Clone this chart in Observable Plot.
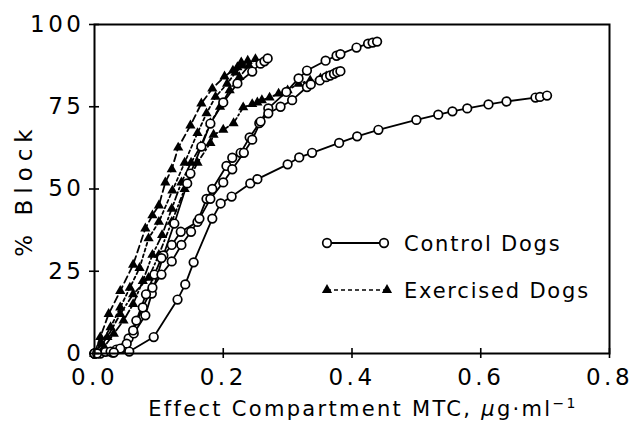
<!DOCTYPE html>
<html><head><meta charset="utf-8">
<script src="https://cdn.jsdelivr.net/npm/d3@7"></script>
<script src="https://cdn.jsdelivr.net/npm/@observablehq/plot@0.6"></script>
<style>
html,body{margin:0;padding:0;background:#fff;}
#chart svg{font-family:"DejaVu Sans",sans-serif;}
#chart svg [aria-label="y-axis tick label"] text,
#chart svg [aria-label="x-axis tick label"] text{letter-spacing:3.5px;}
</style></head><body><div id="chart"></div>
<script>
const xTicks = [0, 0.2, 0.4, 0.6, 0.8];
const yTicks = [0, 25, 50, 75, 100];
const legendLabels = ["Control Dogs", "Exercised Dogs"];
const xTitle = ["Effect Compartment MTC, ", "\u03bc", "g\u00b7ml", "\u22121"];
const yTitle = "% Block";

// Control dogs (open circles, solid lines): [MTC, % block]
const control1 = [[0,0],[0.009,0],[0.028,0.3],[0.053,4.6],[0.061,6.1],[0.079,11.6],[0.089,18.2],[0.107,29.8],[0.124,39.5],[0.144,51.7],[0.149,54.7],[0.166,62.9],[0.18,69.9],[0.2,76.3],[0.222,82.1],[0.245,85.7],[0.258,88.1],[0.264,88.8],[0.269,89.7]];
const control2 = [[0,0],[0.017,0.5],[0.034,1.2],[0.05,3],[0.065,10],[0.08,18],[0.093,24],[0.104,29],[0.12,33],[0.134,37],[0.16,40],[0.174,47],[0.183,50],[0.205,57],[0.214,59.5],[0.227,61],[0.241,65.7],[0.256,70],[0.27,74.5],[0.298,79.5],[0.317,83.6],[0.33,86],[0.359,89],[0.376,90.5],[0.382,91],[0.407,93],[0.425,94.2],[0.432,94.5],[0.439,94.8]];
const control3 = [[0,0],[0.025,0.6],[0.04,1.5],[0.06,7],[0.075,14],[0.09,20],[0.104,24],[0.12,28],[0.135,33],[0.15,37],[0.163,41],[0.18,47],[0.2,52],[0.214,56],[0.232,61],[0.245,65],[0.258,70.5],[0.27,73],[0.289,75],[0.307,77],[0.33,81],[0.336,81.8],[0.35,83],[0.36,84],[0.366,84.5],[0.372,85],[0.377,85.5],[0.382,85.8]];
const control4 = [[0.004,0],[0.03,0.3],[0.054,0.6],[0.092,5],[0.129,16.4],[0.141,21],[0.154,27.7],[0.183,41],[0.196,45.6],[0.213,47.7],[0.242,51.7],[0.253,53],[0.3,57.5],[0.318,59.6],[0.338,61],[0.38,64],[0.408,66],[0.441,68],[0.5,71],[0.534,72.6],[0.556,73.6],[0.579,74.5],[0.612,75.7],[0.64,76.6],[0.685,77.8],[0.692,78],[0.703,78.4]];

// Exercised dogs (filled triangles, broken lines)
const exercised1 = [[0,0],[0.009,5],[0.022,12],[0.04,19],[0.06,27],[0.079,38],[0.09,42],[0.1,45],[0.11,52],[0.12,56],[0.13,62.6],[0.149,69.3],[0.166,76],[0.183,80.5],[0.202,84.2],[0.215,86],[0.222,87],[0.228,88.5]];
const exercised2 = [[0,0],[0.01,3],[0.025,8],[0.04,14],[0.055,20],[0.07,26],[0.084,35],[0.1,40],[0.121,49.5],[0.14,58],[0.16,67],[0.174,73],[0.188,78],[0.206,82],[0.219,85.4],[0.23,87.5],[0.238,89]];
const exercised3 = [[0,0],[0.015,2],[0.03,6],[0.045,10],[0.06,15],[0.075,22],[0.09,30],[0.105,36],[0.12,44],[0.135,52],[0.15,58],[0.165,63],[0.18,70],[0.195,75],[0.21,80],[0.225,84],[0.24,87.5],[0.25,89.5]];
const exercised4 = [[0,0],[0.02,5],[0.04,12],[0.06,18],[0.084,23],[0.1,30],[0.12,40],[0.14,50],[0.16,58],[0.18,64],[0.185,66.5],[0.2,68],[0.216,70],[0.231,74.8],[0.245,75.8],[0.253,76.3],[0.26,77],[0.272,77.8],[0.286,79],[0.3,80],[0.317,82],[0.335,83],[0.351,83.6],[0.36,84.2],[0.371,85],[0.378,85.5]];

const controlDogs = [control1, control2, control3, control4];
const exercisedDogs = [exercised1, exercised2, exercised3, exercised4];
const dashPatterns = ["7,4", "3,3", "8,3,2,3", "5,3,1.5,3"];

const X = d => d[0], Y = d => d[1];
const marks = [];
exercisedDogs.forEach((d, i) => marks.push(Plot.line(d, {x: X, y: Y, stroke: "black", strokeWidth: 1.8, strokeDasharray: dashPatterns[i]})));
controlDogs.forEach(d => marks.push(Plot.line(d, {x: X, y: Y, stroke: "black", strokeWidth: 1.8})));
exercisedDogs.forEach(d => marks.push(Plot.dot(d, {x: X, y: Y, symbol: "triangle", r: 3.8, fill: "black"})));
controlDogs.forEach(d => marks.push(Plot.dot(d, {x: X, y: Y, r: 4.3, fill: "white", stroke: "black", strokeWidth: 1.7})));

const plot = Plot.plot({
  width: 632, height: 424,
  marginLeft: 94, marginRight: 23, marginTop: 24, marginBottom: 71,
  x: {domain: [0, 0.8]},
  y: {domain: [0, 100]},
  style: {fontFamily: "DejaVu Sans, sans-serif", color: "black", background: "white"},
  marks: [
    ...marks,
    Plot.axisX({ticks: xTicks, tickSize: 10, dy: -5, text: null, strokeWidth: 1.6}),
    Plot.axisX({ticks: xTicks, tickSize: 0, tickPadding: 15, tickFormat: d3.format(".1f"), fontSize: 23, label: null}),
    Plot.axisY({ticks: yTicks, tickSize: 10, dx: 5, text: null, strokeWidth: 1.6}),
    Plot.axisY({ticks: yTicks, tickSize: 0, tickPadding: 10, fontSize: 23, label: null}),
    Plot.frame({stroke: "black", strokeWidth: 2})
  ]
});
document.getElementById("chart").appendChild(plot);

const svg = d3.select(plot);
// x title
const xt = svg.append("text").attr("x", 363).attr("y", 416).attr("text-anchor", "middle")
  .attr("font-size", 21).attr("letter-spacing", "2.3px").attr("fill", "black");
xt.append("tspan").text(xTitle[0]);
xt.append("tspan").attr("font-style", "italic").text(xTitle[1]);
xt.append("tspan").text(xTitle[2]);
xt.append("tspan").attr("dy", -8).attr("font-size", 14).text(xTitle[3]);
// y title
svg.append("text").attr("transform", "translate(32,190) rotate(-90)").attr("text-anchor", "middle")
  .attr("font-size", 23).attr("letter-spacing", "6px").attr("fill", "black").text(yTitle);

// legend
const lg = svg.append("g").attr("text-anchor", "start");
lg.append("line").attr("x1", 327).attr("x2", 384).attr("y1", 243).attr("y2", 243).attr("stroke", "black").attr("stroke-width", 1.8);
[327, 384].forEach(cx => lg.append("circle").attr("cx", cx).attr("cy", 243).attr("r", 4.3).attr("fill", "white").attr("stroke", "black").attr("stroke-width", 1.7));
lg.append("line").attr("x1", 327).attr("x2", 387).attr("y1", 290).attr("y2", 290).attr("stroke", "black").attr("stroke-width", 1.5).attr("stroke-dasharray", "4,3");
const tri = d3.symbol(d3.symbolTriangle, 45)();
[327, 387].forEach(cx => lg.append("path").attr("d", tri).attr("transform", `translate(${cx},290)`).attr("fill", "black"));
legendLabels.forEach((t, i) => lg.append("text").attr("x", 404).attr("y", i ? 290 : 243).attr("dy", "0.36em")
  .attr("text-anchor", "start").attr("font-size", 21).attr("letter-spacing", "1.8px").attr("fill", "black").text(t));
</script></body></html>
